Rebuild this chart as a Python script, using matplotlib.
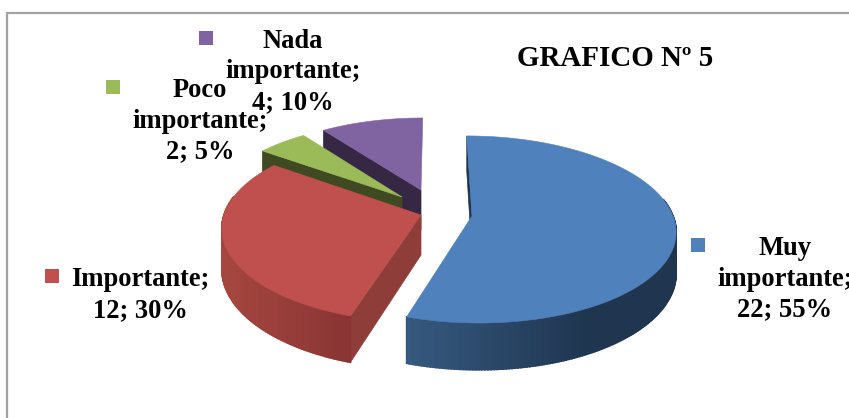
import numpy as np
import matplotlib
matplotlib.use("Agg")
import matplotlib.pyplot as plt
from matplotlib.patches import Polygon, Rectangle
from matplotlib.colors import to_rgb

# data
categories = ["Muy\nimportante", "Importante", "Poco\nimportante", "Nada\nimportante"]
values = [22, 12, 2, 4]
percents = [55, 30, 5, 10]
title = "GRAFICO Nº 5"

# colours
top_colors = ["#4f81bd", "#c0504d", "#9bbb59", "#8064a2"]
side_colors = ["#1f3550", "#8f3d39", "#3f4a22", "#362845"]
wall_left = ["#36597f", "#a6463f", "#3f4a22", "#362845"]
wall_right = ["#1f3550", "#893534", "#3f4a22", "#362845"]

# layout of each exploded slice, in pixels
apex = [(472, 216), (421, 215), (402, 197), (421, 190)]
rx = [201, 197, 187, 188]
ry = [91.6, 91.6, 85, 82.4]
shear = [-6, 0, 0, 2]
wall_span = [(408, 590), (225, 350), (0, 1), (0, 1)]
persp = 0.144
depth = 40

label_pos = [(785, 279), (140, 295), (200, 121), (293, 72)]
key_pos = [(691, 238), (45, 269), (106, 80), (199, 31)]
key_size = 14

plt.rcParams["font.family"] = ["Liberation Serif", "DejaVu Serif"]

fig = plt.figure(figsize=(8.49, 4.18), dpi=100)
ax = fig.add_axes([0, 0, 1, 1])
ax.set_xlim(0, 849)
ax.set_ylim(418, 0)
ax.axis("off")

# chart frame, only top and left are inside the crop
ax.plot([7.5, 7.5, 860], [430, 12.5, 12.5], color="#a3a3a3", lw=1.6, solid_joinstyle="miter")


def rim(i, theta):
    """Point of the slice rim on screen, theta clockwise from 12 o'clock."""
    x_unit = np.sin(theta)
    y_unit = np.cos(theta)
    k = 1 + persp * y_unit
    x = apex[i][0] + (rx[i] * x_unit + shear[i] * y_unit) / k
    y = apex[i][1] - ry[i] * y_unit / k
    return x, y, depth / k


total = sum(values)
edges = np.cumsum([0] + values) / total * 2 * np.pi

# back slices first so the front ones cover them
for i in [3, 2, 1, 0]:
    thetas = np.linspace(edges[i], edges[i + 1], int(values[i] * 12) + 2)
    xs, ys, ds = rim(i, thetas)
    ax_, ay_ = apex[i]

    # the cut face on the start edge, the other one never shows
    face = [(ax_, ay_), (xs[0], ys[0]), (xs[0], ys[0] + ds[0]), (ax_, ay_ + depth)]
    ax.add_patch(Polygon(face, closed=True, fc=side_colors[i], ec=side_colors[i], lw=0.5))

    # outer wall as small shaded quads, only the part facing the viewer
    left = np.array(to_rgb(wall_left[i]))
    right = np.array(to_rgb(wall_right[i]))
    for j in range(len(thetas) - 1):
        if np.cos(thetas[j]) > 0.2:
            continue
        t = np.clip((xs[j] - wall_span[i][0]) / (wall_span[i][1] - wall_span[i][0]), 0, 1)
        c = left + (right - left) * t
        quad = [(xs[j], ys[j]), (xs[j + 1], ys[j + 1]),
                (xs[j + 1], ys[j + 1] + ds[j + 1]), (xs[j], ys[j] + ds[j])]
        ax.add_patch(Polygon(quad, closed=True, fc=c, ec=c, lw=1.2))

    # top of the slice
    outline = [(ax_, ay_)] + list(zip(xs, ys))
    ax.add_patch(Polygon(outline, closed=True, fc=top_colors[i], ec=top_colors[i], lw=0.4))

# labels with their colour key
for i, cat in enumerate(categories):
    ax.add_patch(Rectangle(key_pos[i], key_size, key_size, fc=top_colors[i], ec="none"))
    ax.text(label_pos[i][0], label_pos[i][1], f"{cat};\n{values[i]}; {percents[i]}%",
            ha="center", va="center", fontsize=19.1, fontweight="bold",
            color="black", linespacing=1.31)

ax.text(615, 59, title, ha="center", va="center", fontsize=20.9, fontweight="bold", color="black")

fig.savefig("out.png", dpi=100)
